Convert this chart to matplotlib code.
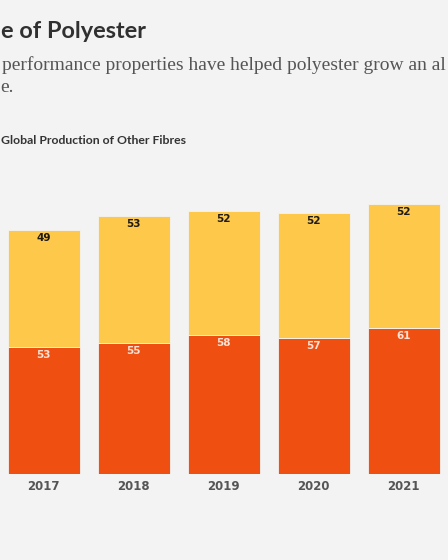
import numpy
from matplotlib import pyplot

# data
years = ['2017', '2018', '2019', '2020', '2021']
polyester = [53, 55, 58, 57, 61]
other_fibres = [49, 53, 52, 52, 52]

# header texts as they show in the (cropped) reference
title = 'e of Polyester'
subtitle_1 = 'performance properties have helped polyester grow an al'
subtitle_2 = 'e.'
legend_text = 'Global Production of Other Fibres'

# style
BG = '#f3f3f3'
ORANGE = '#ef5012'
YELLOW = '#fec84b'
W, H = 448, 560

figure = pyplot.figure(figsize=(W / 100, H / 100), dpi=100)
figure.patch.set_facecolor(BG)
renderer = figure.canvas.get_renderer()


def fit_text(text_obj, target_width):
    ''' scale font size so the text spans target_width pixels '''
    width = text_obj.get_window_extent(renderer).width
    text_obj.set_fontsize(text_obj.get_fontsize() * target_width / width)


# axes placed in pixel terms: bar base at y=474px, 2.39 px per unit
x0 = 43.5 / 90
axes = figure.add_axes([0, (H - 474) / H, 1, 120 * 2.39 / H])
axes.set_facecolor(BG)
axes.set_xlim(-x0, (W - 43.5) / 90)
axes.set_ylim(0, 120)
axes.axis('off')

x = numpy.arange(len(years))
axes.bar(x, polyester, width=0.8, color=ORANGE, edgecolor=BG, linewidth=0.6)
axes.bar(x, other_fibres, width=0.8, bottom=polyester, color=YELLOW,
         edgecolor=BG, linewidth=0.6)

for i, year in enumerate(years):
    p = polyester[i]
    o = other_fibres[i]
    axes.annotate(str(p), (i, p), xytext=(0, -8), textcoords='offset pixels',
                  ha='center', va='center', fontsize=7.5, fontweight='bold',
                  color='#fde3d6', family='DejaVu Sans')
    axes.annotate(str(o), (i, p + o), xytext=(0, -8), textcoords='offset pixels',
                  ha='center', va='center', fontsize=7.5, fontweight='bold',
                  color='#1e1a14', family='DejaVu Sans')
    axes.annotate(year, (i, 0), xytext=(0, -13), textcoords='offset pixels',
                  ha='center', va='center', fontsize=8.5, fontweight='bold',
                  color='#555555', family='DejaVu Sans')

t = figure.text(1 / W, 1 - 31 / H, title, ha='left', va='center',
                fontsize=15, fontweight='bold', color='#303030', family='Lato')
fit_text(t, 146)
s1 = figure.text(2 / W, 1 - 65 / H, subtitle_1, ha='left', va='center',
                 fontsize=14, color='#555555', family='Liberation Serif')
fit_text(s1, 444)
figure.text(0, 1 - 88 / H, subtitle_2, ha='left', va='center',
            fontsize=s1.get_fontsize(), color='#555555', family='Liberation Serif')
g = figure.text(1 / W, 1 - 141 / H, legend_text, ha='left', va='center',
                fontsize=8, fontweight='bold', color='#333333', family='Lato')
fit_text(g, 186)

figure.savefig('out.png', dpi=100, facecolor=BG)
